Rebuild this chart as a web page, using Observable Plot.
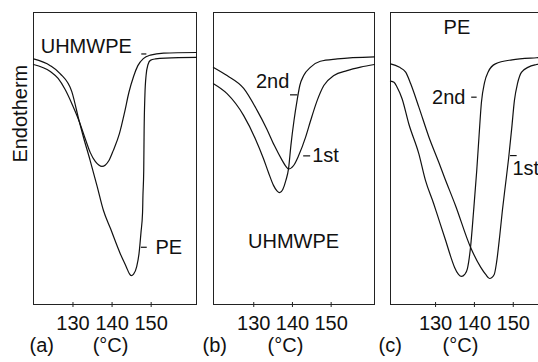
<!DOCTYPE html>
<html><head><meta charset="utf-8">
<script src="https://cdn.jsdelivr.net/npm/d3@7"></script>
<script src="https://cdn.jsdelivr.net/npm/@observablehq/plot@0.6"></script>
<style>
body{margin:0;background:#fff}
#wrap{position:relative;width:538px;height:362px;overflow:hidden;background:#fff}
#wrap svg{position:absolute;top:0}
</style>
</head><body><div id="wrap"></div>
<script>
// Tick labels and texts
const xTicks = [130, 140, 150];
const panelTags = ["(a)", "(b)", "(c)"];
const unitLabel = "(°C)";
const yLabel = "Endotherm";

// Panel (a): first heating, [temperature °C, heat flow (arb.)]
const aUHMWPE = [[119.9,82.2],[124.2,79.8],[126.2,77.4],[128.0,73.6],[129.8,68.5],[131.6,62.7],[133.2,56.5],[134.4,52.1],[135.7,49.0],[136.6,47.8],[137.4,47.3],[138.3,47.8],[139.2,49.3],[140.3,52.7],[141.9,58.6],[143.2,65.8],[144.3,72.6],[145.5,78.1],[146.6,81.8],[148.0,84.2],[149.8,85.4],[153.2,86.1],[161.6,86.3]];
const aPE = [[119.9,84.1],[124.2,81.8],[126.7,79.1],[129.7,72.9],[131.6,62.7],[132.7,57.2],[134.4,49.3],[136.2,40.4],[137.8,32.2],[139.6,26.0],[142.1,17.4],[143.7,12.7],[144.4,10.6],[144.9,9.9],[145.5,10.4],[146.3,13.0],[146.9,17.5],[147.4,24.7],[147.8,31.5],[147.9,37.3],[148.1,45.9],[148.2,59.6],[148.4,71.6],[148.7,78.4],[149.2,82.2],[149.8,83.6],[151.1,84.1],[153.7,84.4],[161.6,84.6]];

// Panel (b): UHMWPE 1st / 2nd heating
const b1st = [[119.6,81.2],[123.1,78.4],[127.4,74.0],[130.9,66.4],[133.3,60.3],[135.3,54.5],[137.2,49.7],[138.3,47.3],[139.0,46.4],[140.3,47.6],[141.6,51.0],[143.4,57.3],[144.7,63.0],[146.4,69.9],[148.1,75.0],[150.7,78.4],[154.1,80.1],[157.6,81.3],[161.2,82.2]];
const b2nd = [[119.6,75.6],[123.1,72.2],[127.4,64.7],[130.4,56.8],[132.5,50.0],[133.8,45.2],[135.1,40.8],[136.0,38.9],[136.7,38.3],[137.5,39.4],[138.3,42.5],[139.0,46.6],[139.6,54.5],[140.4,63.0],[141.2,69.9],[141.9,75.0],[142.9,78.4],[144.7,81.3],[147.2,83.3],[151.6,84.1],[161.2,84.8]];

// Panel (c): PE 1st / 2nd heating
const c1st = [[118.4,82.4],[120.6,81.3],[122.3,79.6],[123.6,75.6],[125.7,67.6],[128.3,57.3],[130.8,48.8],[132.3,43.5],[135.1,34.0],[139.0,19.6],[141.6,12.8],[142.9,10.3],[143.9,8.9],[145.1,10.3],[145.7,14.4],[146.5,23.3],[147.2,32.2],[148.0,41.1],[148.8,50.0],[149.6,60.3],[150.3,69.9],[151.1,75.7],[152.1,79.5],[153.9,81.3],[156.0,82.2],[160.1,82.9]];
const c2nd = [[118.4,76.5],[119.3,76.1],[120.1,74.4],[121.4,70.4],[123.1,61.9],[125.7,51.6],[127.4,42.5],[129.5,34.6],[130.5,30.5],[132.6,21.9],[133.9,16.4],[134.9,12.7],[135.9,10.3],[136.7,9.6],[137.5,10.3],[138.2,12.3],[139.0,19.6],[139.8,32.2],[140.6,45.9],[141.2,57.9],[141.8,69.2],[142.6,76.0],[143.6,79.8],[145.4,82.4],[149.7,83.8],[156.0,84.5],[160.1,84.8]];

// Curve labels: [text, temperature, heat flow, anchor]
const aLabels = [["UHMWPE",133.4,88.4,"middle"],["PE",151.1,19.5,"start"]];
const bLabels = [["2nd",139.2,76.2,"end"],["1st",145.1,50.9,"start"],["UHMWPE",140.3,21.4,"middle"]];
const cLabels = [["PE",135.5,94.9,"middle"],["2nd",137.7,71.0,"end"],["1st",149.8,46.4,"start"]];
// Leader dashes: [heat flow, T from, T to]
const aDashes = [[85.8,147.6,148.9],[19.6,147.5,149.0]];
const bDashes = [[71.8,139.5,141.4],[50.9,142.9,144.7]];
const cDashes = [[71.0,139.3,140.7],[51.0,149.3,151.0]];
// Position of the unit label along each axis (°C)
const unitAt = [139.6, 138.2, 136.4];

const FONT = "'Liberation Sans', Arial, Helvetica, sans-serif";
const wrap = document.getElementById("wrap");

function rows(pairs, run) { return pairs.map(([T, v]) => ({T, v, run})); }

function panel(cfg) {
  const data = cfg.series.flatMap(([p, name]) => rows(p, name));
  const labels = cfg.labels.map(([text, T, v, anchor]) => ({text, T, v, anchor}));
  const dashes = cfg.dashes.map(([v, x1, x2]) => ({v, x1, x2}));
  const marks = [
    Plot.frame({stroke: "#222", strokeWidth: 1}),
    Plot.axisX({ticks: xTicks, tickSize: 5, dy: -2, tickPadding: 8, label: null, stroke: "#222", fill: "#111", fontSize: 20}),
    Plot.line(data, {x: "T", y: "v", z: "run", stroke: "#111", strokeWidth: 1.2, curve: "monotone-x"}),
    Plot.ruleY(dashes, {y: "v", x1: "x1", x2: "x2", stroke: "#111", strokeWidth: 1.2}),
    ...["start", "middle", "end"].map(a => Plot.text(labels.filter(d => d.anchor === a), {x: "T", y: "v", text: "text", textAnchor: a, fill: "#111", fontSize: 20})),
    Plot.text([cfg.tag], {frameAnchor: "bottom-left", dx: cfg.tagDx, dy: 47, textAnchor: "start", fill: "#111", fontSize: 20}),
    Plot.text([{T: cfg.unitT}], {x: "T", frameAnchor: "bottom", dy: 47, text: () => unitLabel, fill: "#111", fontSize: 20})
  ];
  if (cfg.yLabel) {
    marks.push(Plot.text([{v: 48.6}], {y: "v", frameAnchor: "left", dx: -13, rotate: -90, text: () => cfg.yLabel, fill: "#111", fontSize: 20}));
  }
  const svg = Plot.plot({
    width: cfg.width, height: 362,
    marginTop: 12, marginBottom: 58, marginLeft: cfg.marginLeft, marginRight: 4,
    x: {domain: cfg.domain},
    y: {domain: [0, 100], axis: null},
    style: {fontFamily: FONT, fontSize: "20px", color: "#111", background: "transparent", overflow: "visible"},
    marks
  });
  svg.style.left = cfg.left + "px";
  wrap.append(svg);
}

panel({left: 0, width: 200, marginLeft: 33, domain: [119.9, 161.6],
  series: [[aUHMWPE, "UHMWPE"], [aPE, "PE"]], labels: aLabels, dashes: aDashes,
  tag: panelTags[0], tagDx: -4, unitT: unitAt[0], yLabel});
panel({left: 200, width: 178, marginLeft: 13, domain: [119.6, 161.2],
  series: [[b1st, "1st"], [b2nd, "2nd"]], labels: bLabels, dashes: bDashes,
  tag: panelTags[1], tagDx: -11, unitT: unitAt[1]});
panel({left: 378, width: 178, marginLeft: 12, domain: [118.4, 160.1],
  series: [[c1st, "1st"], [c2nd, "2nd"]], labels: cLabels, dashes: cDashes,
  tag: panelTags[2], tagDx: -12, unitT: unitAt[2]});
</script>
</body></html>
